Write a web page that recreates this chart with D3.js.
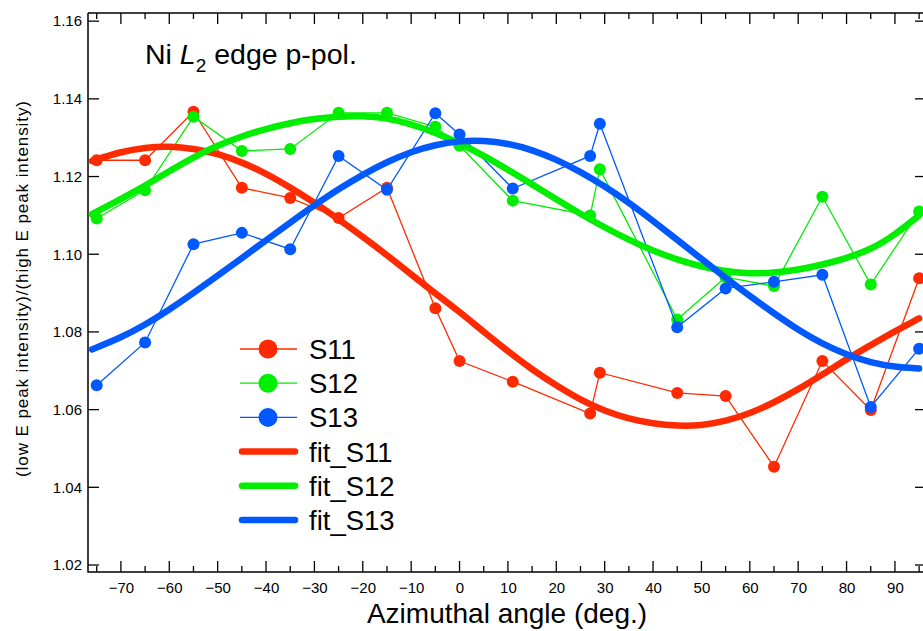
<!DOCTYPE html>
<html><head><meta charset="utf-8">
<script src="https://cdn.jsdelivr.net/npm/d3@7"></script>
<style>
html,body{margin:0;padding:0;background:#fff;}
svg{display:block;}
text{font-family:Arial,"Liberation Sans",Helvetica,sans-serif;fill:#000;}
</style></head>
<body>
<svg id="chart" width="923" height="631"></svg>
<script>
// ---- data ----
const angles = [-75,-65,-55,-45,-35,-25,-15,-5,0,11,27,29,45,55,65,75,85,95];
const S11 = [1.1242,1.1242,1.1367,1.1171,1.1145,1.1093,1.1171,1.0861,1.0725,1.0672,1.0590,1.0695,1.0643,1.0635,1.0453,1.0725,1.0599,1.0938];
const S12 = [1.1092,1.1165,1.1354,1.1266,1.1271,1.1364,1.1364,1.1328,1.1279,1.1138,1.1100,1.1219,1.0832,1.0941,1.0918,1.1148,1.0922,1.1110];
const S13 = [1.0663,1.0773,1.1026,1.1055,1.1013,1.1253,1.1166,1.1363,1.1308,1.1169,1.1253,1.1336,1.0812,1.0912,1.0929,1.0947,1.0607,1.0757];

const fitAngles = [-76,-70,-65,-60,-55,-50,-45,-40,-35,-30,-25,-20,-15,-10,-5,0,5,10,15,20,25,30,35,40,45,50,55,60,65,70,75,80,85,90,95];
const fitS11 = [1.1240,1.1264,1.1275,1.1278,1.1272,1.1259,1.1237,1.1208,1.1172,1.1133,1.1090,1.1045,1.0998,1.0948,1.0899,1.0852,1.0800,1.0750,1.0703,1.0662,1.0625,1.0596,1.0576,1.0564,1.0558,1.0559,1.0570,1.0590,1.0618,1.0652,1.0690,1.0730,1.0766,1.0802,1.0835];
const fitS12 = [1.1103,1.1142,1.1176,1.1214,1.1250,1.1280,1.1304,1.1323,1.1338,1.1349,1.1355,1.1356,1.1351,1.1335,1.1313,1.1286,1.1254,1.1218,1.1180,1.1141,1.1104,1.1069,1.1037,1.1009,1.0986,1.0968,1.0956,1.0950,1.0952,1.0960,1.0973,1.0990,1.1012,1.1050,1.1100];
const fitS13 = [1.0755,1.0785,1.0818,1.0857,1.0900,1.0945,1.0990,1.1036,1.1082,1.1126,1.1168,1.1205,1.1238,1.1264,1.1282,1.1292,1.1293,1.1285,1.1269,1.1244,1.1212,1.1175,1.1133,1.1086,1.1037,1.0988,1.0939,1.0892,1.0848,1.0805,1.0769,1.0741,1.0721,1.0710,1.0706];

const xTickLabels = [-70,-60,-50,-40,-30,-20,-10,0,10,20,30,40,50,60,70,80,90];
const yTickLabels = [1.02,1.04,1.06,1.08,1.10,1.12,1.14,1.16];

const seriesNames = ["S11","S12","S13"];
const fitNames = ["fit_S11","fit_S12","fit_S13"];
const colors = ["#ff2a00","#00ee00","#0058ff"];

// ---- layout ----
const L = 88, R = 923, T = 13, B = 572;
const svg = d3.select("#chart");
const x = d3.scaleLinear().domain([-76.8, 95.8]).range([L, R]);
const y = d3.scaleLinear().domain([1.0182, 1.1621]).range([B, T]);

const minorX = d3.range(-75, 96, 5);
const fmtX = d => (d < 0 ? "\u2212" + Math.abs(d) : String(d));

// axes (inward ticks)
const gB = svg.append("g").attr("transform", `translate(0,${B})`);
gB.call(d3.axisBottom(x).tickValues(xTickLabels).tickSize(0).tickPadding(10).tickFormat(fmtX));
gB.select(".domain").remove();
gB.selectAll("text").style("font-size", "15px").style("font-family", "Arial, 'Liberation Sans', sans-serif");
gB.selectAll(".mt").data(minorX).enter().append("line")
  .attr("x1", d => x(d)).attr("x2", d => x(d))
  .attr("y1", 0).attr("y2", d => (d % 10 === 0 ? -11 : -6))
  .attr("stroke", "#000").attr("stroke-width", 1.3);

const gT = svg.append("g").attr("transform", `translate(0,${T})`);
gT.selectAll("line").data(minorX).enter().append("line")
  .attr("x1", d => x(d)).attr("x2", d => x(d))
  .attr("y1", 0).attr("y2", d => (d % 10 === 0 ? 11 : 6))
  .attr("stroke", "#000").attr("stroke-width", 1.3);

const gL = svg.append("g").attr("transform", `translate(${L},0)`);
gL.call(d3.axisLeft(y).tickValues(yTickLabels).tickSize(0).tickPadding(6).tickFormat(d3.format(".2f")));
gL.select(".domain").remove();
gL.selectAll("text").style("font-size", "15px").style("font-family", "Arial, 'Liberation Sans', sans-serif");
gL.selectAll(".yt").data(yTickLabels).enter().append("line")
  .attr("x1", 0).attr("x2", 11).attr("y1", d => y(d)).attr("y2", d => y(d))
  .attr("stroke", "#000").attr("stroke-width", 1.3);

const gR = svg.append("g").attr("transform", `translate(${R},0)`);
gR.selectAll("line").data(yTickLabels).enter().append("line")
  .attr("x1", 0).attr("x2", -8).attr("y1", d => y(d)).attr("y2", d => y(d))
  .attr("stroke", "#000").attr("stroke-width", 1.3);

// frame
svg.append("path").attr("d", `M${L},${T}H${R}M${L},${T}V${B}H${R}`)
  .attr("fill", "none").attr("stroke", "#000").attr("stroke-width", 1.5);

// data series
const dataSets = [S11, S12, S13];
const lineData = d3.line().x(d => x(d[0])).y(d => y(d[1]));
dataSets.forEach((vals, i) => {
  const pts = angles.map((a, j) => [a, vals[j]]);
  svg.append("path").attr("d", lineData(pts)).attr("fill", "none")
    .attr("stroke", colors[i]).attr("stroke-width", 1.3);
  svg.append("g").selectAll("circle").data(pts).enter().append("circle")
    .attr("cx", d => x(d[0])).attr("cy", d => y(d[1])).attr("r", 6)
    .attr("fill", colors[i]);
});

// fits
const fitSets = [fitS11, fitS12, fitS13];
const lineFit = d3.line().curve(d3.curveBasis).x(d => x(d[0])).y(d => y(d[1]));
fitSets.forEach((vals, i) => {
  const pts = fitAngles.map((a, j) => [a, vals[j]]);
  svg.append("path").attr("d", lineFit(pts)).attr("fill", "none")
    .attr("stroke", colors[i]).attr("stroke-width", 6.5).attr("stroke-linecap", "round");
});

// title
const title = svg.append("text").attr("x", 145).attr("y", 64).style("font-size", "28.5px");
title.append("tspan").text("Ni ");
title.append("tspan").style("font-style", "italic").text("L");
title.append("tspan").attr("dy", 8).style("font-size", "19px").text("2");
title.append("tspan").attr("dy", -8).text(" edge p-pol.");

// axis titles
svg.append("text").attr("x", 507).attr("y", 623).attr("text-anchor", "middle")
  .style("font-size", "28px").text("Azimuthal angle (deg.)");
svg.append("text").attr("transform", "translate(28,289) rotate(-90)").attr("text-anchor", "middle")
  .attr("textLength", 376).attr("lengthAdjust", "spacing")
  .style("font-size", "17px").text("(low E peak intensity)/(high E peak intensity)");

// legend
const legY0 = 349, legDy = 34.2;
const leg = svg.append("g");
seriesNames.concat(fitNames).forEach((name, k) => {
  const cy = legY0 + k * legDy;
  const c = colors[k % 3];
  if (k < 3) {
    leg.append("line").attr("x1", 240).attr("x2", 297).attr("y1", cy).attr("y2", cy)
      .attr("stroke", c).attr("stroke-width", 1.3);
    leg.append("circle").attr("cx", 268).attr("cy", cy).attr("r", 9.5).attr("fill", c);
  } else {
    leg.append("line").attr("x1", 242).attr("x2", 295).attr("y1", cy).attr("y2", cy)
      .attr("stroke", c).attr("stroke-width", 6.5).attr("stroke-linecap", "round");
  }
  leg.append("text").attr("x", 309).attr("y", cy + 10).style("font-size", "27.5px").text(name);
});
</script>
</body></html>
